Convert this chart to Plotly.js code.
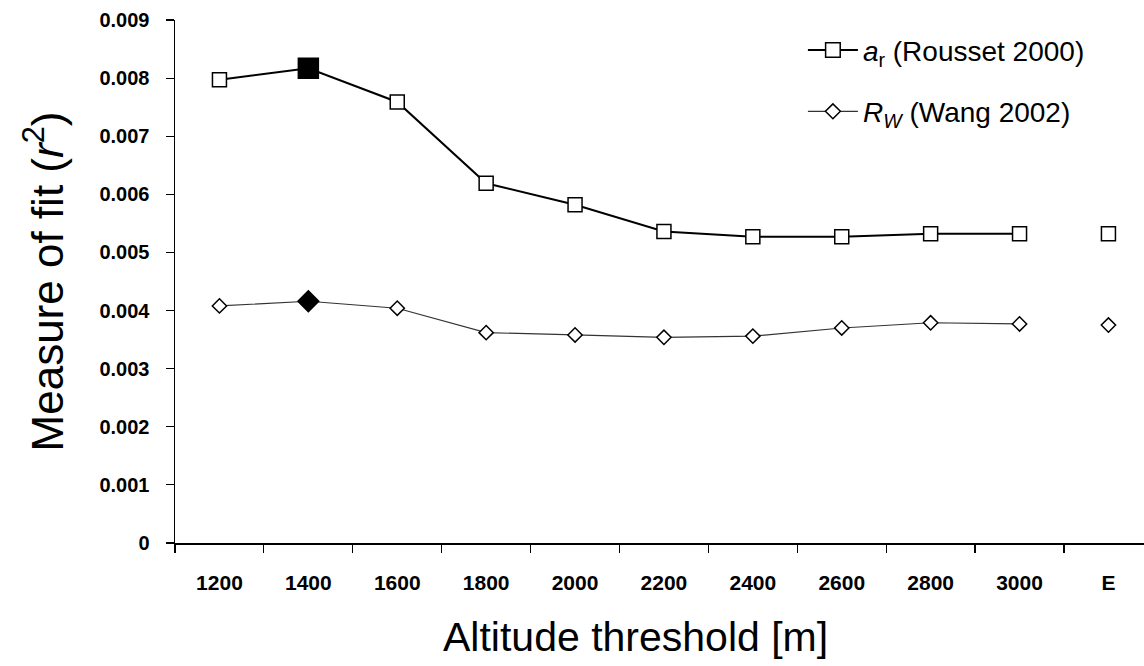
<!DOCTYPE html>
<html>
<head>
<meta charset="utf-8">
<script src="https://cdn.plot.ly/plotly-3.0.1.min.js"></script>
<style>html,body{margin:0;padding:0;background:#fff;}#chart{width:1144px;height:666px;}</style>
</head>
<body>
<div id="chart"></div>
<script>
// Categories (altitude thresholds); last one "E"
const categories = ['1200','1400','1600','1800','2000','2200','2400','2600','2800','3000','E'];
// a_r (Rousset 2000) measure of fit r^2
const arValues = [0.00797, 0.00817, 0.00759, 0.00619, 0.00582, 0.00536, 0.00527, 0.00527, 0.00532, 0.00532, 0.00532];
// R_W (Wang 2002) measure of fit r^2
const rwValues = [0.00408, 0.00416, 0.00404, 0.00362, 0.00358, 0.00354, 0.00356, 0.00370, 0.00379, 0.00377, 0.00375];
// index of the highlighted (best) threshold
const bestIndex = 1;
const yTickVals = [0, 0.001, 0.002, 0.003, 0.004, 0.005, 0.006, 0.007, 0.008, 0.009];
const yTickText = ['0','0.001','0.002','0.003','0.004','0.005','0.006','0.007','0.008','0.009'];
const xTitle = 'Altitude threshold [m]';
const yTitle = 'Measure of fit (<i>r</i><sup>2</sup>)';

const nLine = categories.length - 1; // E is not connected
const lineX = categories.slice(0, nLine);
const FONT = 'Liberation Sans, Arial, sans-serif';

function fills(n, hi){ return Array.from({length:n}, (_, i) => i === hi ? '#000000' : 'white'); }
function sizes(n, hi, s, big){ return Array.from({length:n}, (_, i) => i === hi ? big : s); }

const traces = [
  {
    x: lineX, y: arValues.slice(0, nLine), type: 'scatter', mode: 'lines+markers',
    name: '<i>a</i><sub>r</sub> (Rousset 2000)', legendgroup: 'a',
    line: {color: 'black', width: 2},
    marker: {symbol: 'square', size: sizes(nLine, bestIndex, 14, 20), color: fills(nLine, bestIndex), opacity: 1, line: {color: 'black', width: 1.5}}
  },
  {
    x: [categories[nLine]], y: [arValues[nLine]], type: 'scatter', mode: 'markers', showlegend: false,
    marker: {symbol: 'square', size: 14, color: 'white', line: {color: 'black', width: 1.5}}
  },
  {
    x: lineX, y: rwValues.slice(0, nLine), type: 'scatter', mode: 'lines+markers',
    name: '<i>R</i><sub><i>W</i></sub> (Wang 2002)', legendgroup: 'b',
    line: {color: '#333', width: 1.2},
    marker: {symbol: 'diamond', size: sizes(nLine, bestIndex, 11, 16), color: fills(nLine, bestIndex), opacity: 1, line: {color: 'black', width: 1.5}}
  },
  {
    x: [categories[nLine]], y: [rwValues[nLine]], type: 'scatter', mode: 'markers', showlegend: false,
    marker: {symbol: 'diamond', size: 11, color: 'white', line: {color: 'black', width: 1.5}}
  }
];

const layout = {
  width: 1144, height: 666,
  margin: {l: 175, r: 0, t: 20, b: 123},
  paper_bgcolor: 'white', plot_bgcolor: 'white',
  font: {family: FONT, color: 'black'},
  showlegend: true,
  legend: {
    x: 0.648, xanchor: 'left', y: 0.99, yanchor: 'top',
    font: {family: FONT, size: 28, color: 'black'},
    traceorder: 'grouped', tracegroupgap: 22, itemwidth: 50,
    bgcolor: 'rgba(0,0,0,0)'
  },
  xaxis: {
    type: 'category', categoryorder: 'array', categoryarray: categories,
    range: [-0.5, 10.4],
    showline: true, linecolor: 'black', linewidth: 1.5,
    ticks: 'outside', ticklen: 8, tickwidth: 1.2, tickcolor: 'black', tickson: 'boundaries',
    showgrid: false, zeroline: false,
    tickfont: {family: FONT, size: 21, color: 'black', weight: 'bold'},
    ticklabelstandoff: 20
  },
  yaxis: {
    range: [0, 0.009],
    tickvals: yTickVals, ticktext: yTickText,
    showline: true, linecolor: 'black', linewidth: 1.5,
    ticks: 'outside', ticklen: 8, tickwidth: 1.2, tickcolor: 'black',
    showgrid: false, zeroline: false,
    tickfont: {family: FONT, size: 20, color: 'black', weight: 'bold'},
    ticklabelstandoff: 12,
    title: {text: yTitle, font: {family: FONT, size: 44, color: 'black'}, standoff: 22}
  },
  annotations: [
    {
      text: xTitle, xref: 'paper', yref: 'paper', x: 0.475, y: -0.18,
      xanchor: 'center', yanchor: 'middle', showarrow: false,
      font: {family: FONT, size: 41, color: 'black'}
    }
  ]
};

Plotly.newPlot('chart', traces, layout, {displayModeBar: false, staticPlot: true});
</script>
</body>
</html>
